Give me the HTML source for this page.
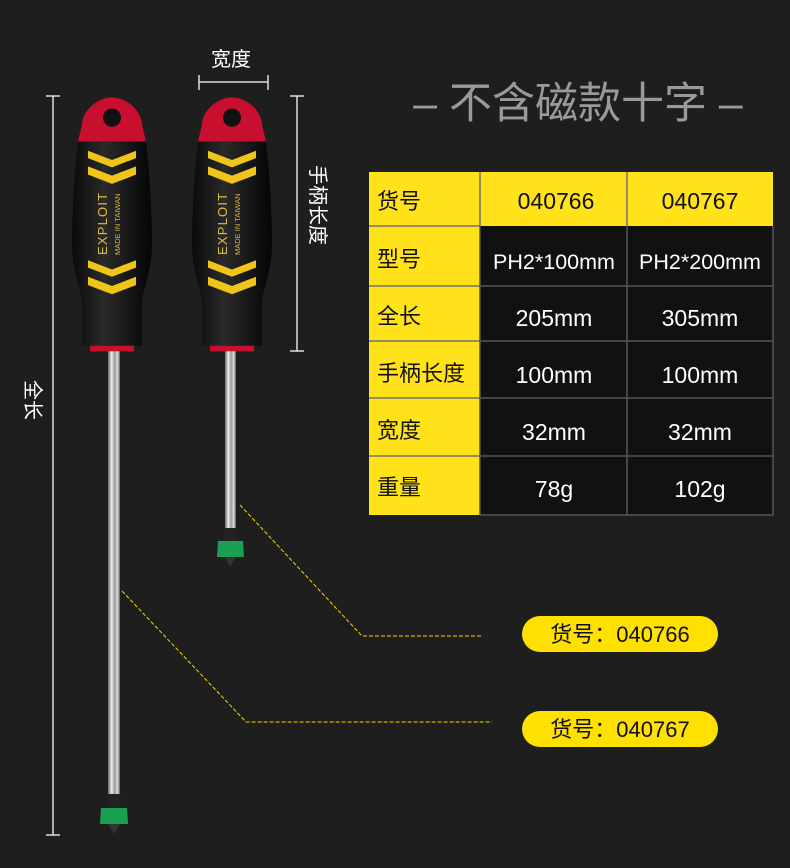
<!DOCTYPE html>
<html><head><meta charset="utf-8"><style>
html,body{margin:0;padding:0;background:#1e1e1e;}
svg{display:block}
text{font-family:"Liberation Sans","Noto Sans CJK SC",sans-serif;}
</style></head><body>
<svg width="790" height="868" viewBox="0 0 790 868">
<defs>
<linearGradient id="shaft" x1="0" x2="1"><stop offset="0" stop-color="#666"/><stop offset=".3" stop-color="#eee"/><stop offset=".55" stop-color="#999"/><stop offset=".8" stop-color="#ddd"/><stop offset="1" stop-color="#555"/></linearGradient>
<linearGradient id="hand" x1="0" x2="1"><stop offset="0" stop-color="#0a0a0a"/><stop offset=".4" stop-color="#2a2a2a"/><stop offset="1" stop-color="#050505"/></linearGradient>
<g id="handle">
<g transform="scale(1,0.92)">
<path d="M-30,-250 C-30,-265 -15,-280 0,-280 C15,-280 30,-265 30,-250 L34,-230 C38,-200 40,-150 40,-120 C40,-90 30,-70 30,-55 L30,-10 L-30,-10 L-30,-55 C-30,-70 -40,-90 -40,-120 C-40,-150 -38,-200 -34,-230 Z" fill="url(#hand)"/>
<path d="M-30,-250 C-30,-265 -15,-280 0,-280 C15,-280 30,-265 30,-250 L34,-232 L-34,-232 Z" fill="#c8102e"/>
<ellipse cx="0" cy="-258" rx="9" ry="10" fill="#111"/>
<path d="M-24,-222 L0,-212 L24,-222 L24,-214 L0,-204 L-24,-214Z M-24,-205 L0,-195 L24,-205 L24,-196 L0,-186 L-24,-196Z" fill="#f0c419"/>
<path d="M-24,-103 L0,-93 L24,-103 L24,-95 L0,-85 L-24,-95Z M-24,-85 L0,-75 L24,-85 L24,-76 L0,-66 L-24,-76Z" fill="#f0c419"/>
<rect x="-22" y="-10" width="44" height="6" fill="#c8102e"/>
</g>
<text transform="translate(-5,-100) rotate(-90)" font-family="Liberation Serif" font-size="13" fill="#e0c040" letter-spacing="1.2">EXPLOIT</text>
<text transform="translate(8,-100) rotate(-90)" font-size="7.5" fill="#d8b840">MADE IN TAIWAN</text>
</g>
</defs>
<text x="578" y="118" font-size="43" fill="#9a9a9a" text-anchor="middle">– 不含磁款十字 –</text>
<g stroke="#ddd" stroke-width="1.5" fill="none">
<line x1="53" y1="96" x2="53" y2="835"/><line x1="46" y1="96" x2="60" y2="96"/><line x1="46" y1="835" x2="60" y2="835"/>
<line x1="199" y1="82" x2="268" y2="82"/><line x1="199" y1="75" x2="199" y2="90"/><line x1="268" y1="75" x2="268" y2="90"/>
<line x1="297" y1="96" x2="297" y2="351"/><line x1="290" y1="96" x2="304" y2="96"/><line x1="290" y1="351" x2="304" y2="351"/>
</g>
<text x="231" y="66" font-size="20" fill="#fff" text-anchor="middle">宽度</text>
<text transform="translate(26,400) rotate(90)" font-size="20" fill="#fff" text-anchor="middle">全长</text>
<text transform="translate(311,205) rotate(90)" font-size="20" fill="#fff" text-anchor="middle">手柄长度</text>
<rect x="108" y="350" width="12" height="445" fill="url(#shaft)"/>
<use href="#handle" transform="translate(112,355)"/>
<rect x="107" y="794" width="14" height="14" fill="#222"/>
<path d="M101,808 L127,808 L128,824 L100,824Z" fill="#1aa050"/>
<path d="M108,824 L120,824 L114,834Z" fill="#333"/>
<rect x="225" y="350" width="11" height="178" fill="url(#shaft)"/>
<use href="#handle" transform="translate(232,355)"/>
<rect x="224" y="528" width="13" height="13" fill="#222"/>
<path d="M218,541 L243,541 L244,557 L217,557Z" fill="#1aa050"/>
<path d="M225,557 L236,557 L230,567Z" fill="#333"/>
<g stroke="#f5d800" stroke-width="1" stroke-dasharray="4,2" fill="none">
<polyline points="240,505 362,636 482,636"/>
<polyline points="122,591 246,722 492,722"/>
</g>
<rect x="522" y="616" width="196" height="36" rx="18" fill="#ffe000"/>
<rect x="522" y="711" width="196" height="36" rx="18" fill="#ffe000"/>
<text x="620" y="642" font-size="22" fill="#111" text-anchor="middle">货号：040766</text>
<text x="620" y="737" font-size="22" fill="#111" text-anchor="middle">货号：040767</text>
<rect x="369" y="172" width="404" height="343" fill="#111"/>
<rect x="369" y="172" width="404" height="54" fill="#ffe21a"/>
<rect x="369" y="172" width="111" height="343" fill="#ffe21a"/>
<g stroke="#555" stroke-width="1.5">
<line x1="480" y1="226" x2="480" y2="515"/><line x1="627" y1="226" x2="627" y2="515"/>
<line x1="480" y1="286" x2="773" y2="286"/><line x1="480" y1="341" x2="773" y2="341"/><line x1="480" y1="398" x2="773" y2="398"/><line x1="480" y1="456" x2="773" y2="456"/>
<line x1="773" y1="226" x2="773" y2="515"/><line x1="480" y1="515" x2="773" y2="515"/>
</g>
<g stroke="#2a3a9a" stroke-width="1">
<line x1="480" y1="172" x2="480" y2="226"/><line x1="627" y1="172" x2="627" y2="226"/>
<line x1="369" y1="226" x2="480" y2="226"/><line x1="369" y1="286" x2="480" y2="286"/><line x1="369" y1="341" x2="480" y2="341"/><line x1="369" y1="398" x2="480" y2="398"/><line x1="369" y1="456" x2="480" y2="456"/>
</g>
<g font-size="22" fill="#111">
<text x="377" y="209">货号</text><text x="377" y="267">型号</text><text x="377" y="324">全长</text><text x="377" y="381">手柄长度</text><text x="377" y="438">宽度</text><text x="377" y="495">重量</text>
</g>
<g font-size="23" text-anchor="middle">
<text x="556" y="209" fill="#111">040766</text><text x="700" y="209" fill="#111">040767</text>
<g fill="#fff">
<text x="554" y="269" font-size="21.5">PH2*100mm</text><text x="700" y="269" font-size="21.5">PH2*200mm</text>
<text x="554" y="326">205mm</text><text x="700" y="326">305mm</text>
<text x="554" y="383">100mm</text><text x="700" y="383">100mm</text>
<text x="554" y="440">32mm</text><text x="700" y="440">32mm</text>
<text x="554" y="497">78g</text><text x="700" y="497">102g</text>
</g></g>
</svg>
</body></html>
